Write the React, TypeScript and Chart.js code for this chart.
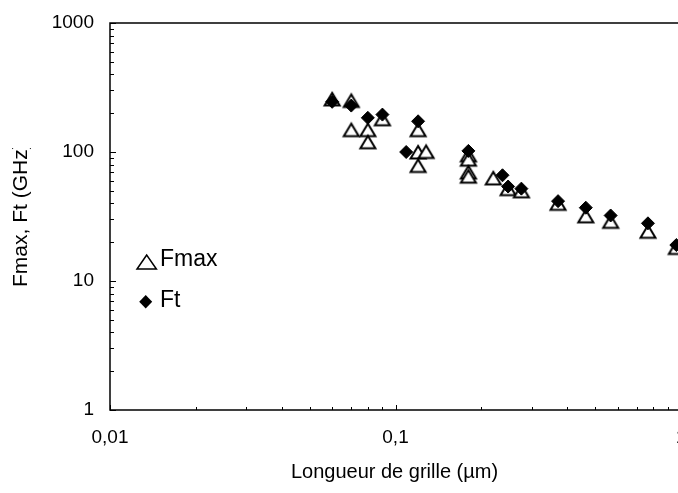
import React, { useEffect, useRef } from 'react';
import { Chart, registerables } from 'chart.js';

Chart.register(...registerables);

// ---- Data ----
const fmaxX = [0.06, 0.07, 0.07, 0.08, 0.08, 0.09, 0.12, 0.12, 0.12, 0.128, 0.18, 0.18, 0.18, 0.18, 0.22, 0.248, 0.276, 0.371, 0.464, 0.567, 0.766, 0.963];
const fmaxY = [258, 251, 149, 149, 120, 181, 149, 100, 78.6, 101, 95, 88, 70, 65, 63, 52, 50, 40, 32, 29, 24.3, 18.2];
const ftX = [0.06, 0.07, 0.08, 0.09, 0.109, 0.12, 0.18, 0.237, 0.248, 0.276, 0.371, 0.464, 0.567, 0.766, 0.963];
const ftY = [245, 229, 184, 195, 100, 173, 102, 66, 54, 52, 41.6, 37, 32.2, 28, 19];

const xTickValues = [0.01, 0.1, 1];
const xTickLabels = ['0,01', '0,1', '1'];
const yTickValues = [1, 10, 100, 1000];
const yTickLabels = ['1', '10', '100', '1000'];
const seriesNames = ['Fmax', 'Ft'];
const xTitle = 'Longueur de grille (µm)';
const yTitle = 'Fmax, Ft (GHz)';

const FONT = "'Liberation Sans', Arial, sans-serif";

function makeTriangle(): HTMLCanvasElement {
  const c = document.createElement('canvas');
  c.width = 20;
  c.height = 18;
  const g = c.getContext('2d')!;
  g.beginPath();
  g.moveTo(10, 3);
  g.lineTo(2.5, 15.5);
  g.lineTo(17.5, 15.5);
  g.closePath();
  g.fillStyle = '#fff';
  g.fill();
  g.lineWidth = 2;
  g.strokeStyle = '#000';
  g.lineJoin = 'miter';
  g.stroke();
  return c;
}

function minorValues(min: number, max: number): { v: number; major: boolean }[] {
  const out: { v: number; major: boolean }[] = [];
  const e0 = Math.floor(Math.log10(min) + 1e-9);
  const e1 = Math.ceil(Math.log10(max) - 1e-9);
  for (let e = e0; e <= e1; e++) {
    for (let m = 1; m <= 9; m++) {
      const v = m * Math.pow(10, e);
      if (v >= min * 0.9999 && v <= max * 1.0001) out.push({ v, major: m === 1 });
    }
  }
  return out;
}

const framePlugin = {
  id: 'frame',
  afterDraw(chart: any) {
    const { ctx, chartArea, scales } = chart;
    const { left, right, top, bottom } = chartArea;
    ctx.save();
    ctx.strokeStyle = '#000';
    ctx.lineWidth = 1.5;
    ctx.beginPath();
    ctx.moveTo(left, top);
    ctx.lineTo(right, top);
    ctx.lineTo(right, bottom);
    ctx.lineTo(left, bottom);
    ctx.closePath();
    ctx.stroke();

    // inward tick marks
    ctx.lineWidth = 1;
    const xs = scales.x;
    const ys = scales.y;
    ctx.beginPath();
    for (const t of minorValues(xs.min, xs.max)) {
      const px = Math.round(xs.getPixelForValue(t.v)) + 0.5;
      const len = t.major ? 5 : 3;
      ctx.moveTo(px, bottom);
      ctx.lineTo(px, bottom - len);
    }
    for (const t of minorValues(ys.min, ys.max)) {
      const py = Math.round(ys.getPixelForValue(t.v)) + 0.5;
      const len = t.major ? 6 : 4;
      ctx.moveTo(left, py);
      ctx.lineTo(left + len, py);
    }
    ctx.stroke();

    // axis titles
    ctx.fillStyle = '#000';
    ctx.font = `20px ${FONT}`;
    ctx.textAlign = 'center';
    ctx.textBaseline = 'middle';
    ctx.fillText(xTitle, (left + right) / 2 - 1, 472);

    ctx.save();
    ctx.beginPath();
    ctx.rect(0, 148, 60, 400);
    ctx.clip();
    ctx.translate(21, 287);
    ctx.rotate(-Math.PI / 2);
    ctx.font = `21px ${FONT}`;
    ctx.textAlign = 'left';
    ctx.textBaseline = 'middle';
    ctx.fillText(yTitle, 0, 0);
    ctx.restore();

    // legend
    ctx.lineWidth = 1.5;
    ctx.strokeStyle = '#000';
    ctx.fillStyle = '#fff';
    ctx.beginPath();
    ctx.moveTo(146.7, 255);
    ctx.lineTo(137, 269);
    ctx.lineTo(156.4, 269);
    ctx.closePath();
    ctx.fill();
    ctx.stroke();

    ctx.fillStyle = '#000';
    ctx.beginPath();
    ctx.moveTo(145.7, 295);
    ctx.lineTo(152.2, 301.7);
    ctx.lineTo(145.7, 308.4);
    ctx.lineTo(139.2, 301.7);
    ctx.closePath();
    ctx.fill();

    ctx.font = `23px ${FONT}`;
    ctx.textAlign = 'left';
    ctx.textBaseline = 'middle';
    ctx.fillText(seriesNames[0], 160, 260);
    ctx.fillText(seriesNames[1], 160, 300.5);
    ctx.restore();
  },
};

export default function App() {
  const ref = useRef<HTMLCanvasElement | null>(null);

  useEffect(() => {
    document.body.style.margin = '0';
    const canvas = ref.current;
    if (!canvas) return;
    const tri = makeTriangle();
    const fmaxData = fmaxX.map((x, i) => ({ x, y: fmaxY[i] }));
    const ftData = ftX.map((x, i) => ({ x, y: ftY[i] }));

    const chart = new Chart(canvas, {
      type: 'scatter',
      data: {
        datasets: [
          {
            label: seriesNames[0],
            data: fmaxData,
            pointStyle: tri as any,
            pointRadius: 9,
            order: 2,
          },
          {
            label: seriesNames[1],
            data: ftData,
            pointStyle: 'rectRot',
            pointRadius: 6.5,
            backgroundColor: '#000',
            borderColor: '#000',
            borderWidth: 1,
            order: 1,
          },
        ],
      },
      options: {
        animation: false,
        responsive: false,
        maintainAspectRatio: false,
        devicePixelRatio: 1,
        layout: { padding: { top: 23, right: 39, bottom: 0, left: 0 } },
        plugins: {
          legend: { display: false },
          tooltip: { enabled: false },
        },
        scales: {
          x: {
            type: 'logarithmic',
            min: 0.01,
            max: 1,
            grid: { display: false, drawTicks: false },
            border: { display: false },
            afterBuildTicks: (scale: any) => {
              scale.ticks = xTickValues.map((v) => ({ value: v }));
            },
            afterFit: (scale: any) => {
              scale.height = 83;
            },
            ticks: {
              autoSkip: false,
              maxRotation: 0,
              padding: 16,
              color: '#000',
              font: { family: FONT, size: 19 },
              callback: (_v: any, i: number) => xTickLabels[i],
            },
          },
          y: {
            type: 'logarithmic',
            min: 1,
            max: 1000,
            grid: { display: false, drawTicks: false },
            border: { display: false },
            afterBuildTicks: (scale: any) => {
              scale.ticks = yTickValues.map((v) => ({ value: v }));
            },
            afterFit: (scale: any) => {
              scale.width = 110;
              scale.paddingTop = 0;
              scale.paddingBottom = 0;
            },
            ticks: {
              autoSkip: false,
              padding: 16,
              color: '#000',
              font: { family: FONT, size: 19 },
              callback: (_v: any, i: number) => yTickLabels[i],
            },
          },
        },
      },
      plugins: [framePlugin],
    });
    return () => chart.destroy();
  }, []);

  return (
    <div style={{ position: 'fixed', left: 0, top: 0, width: 678, height: 493, overflow: 'hidden', background: '#fff' }}>
      <canvas ref={ref} width={720} height={493} style={{ width: 720, height: 493, display: 'block' }} />
    </div>
  );
}
